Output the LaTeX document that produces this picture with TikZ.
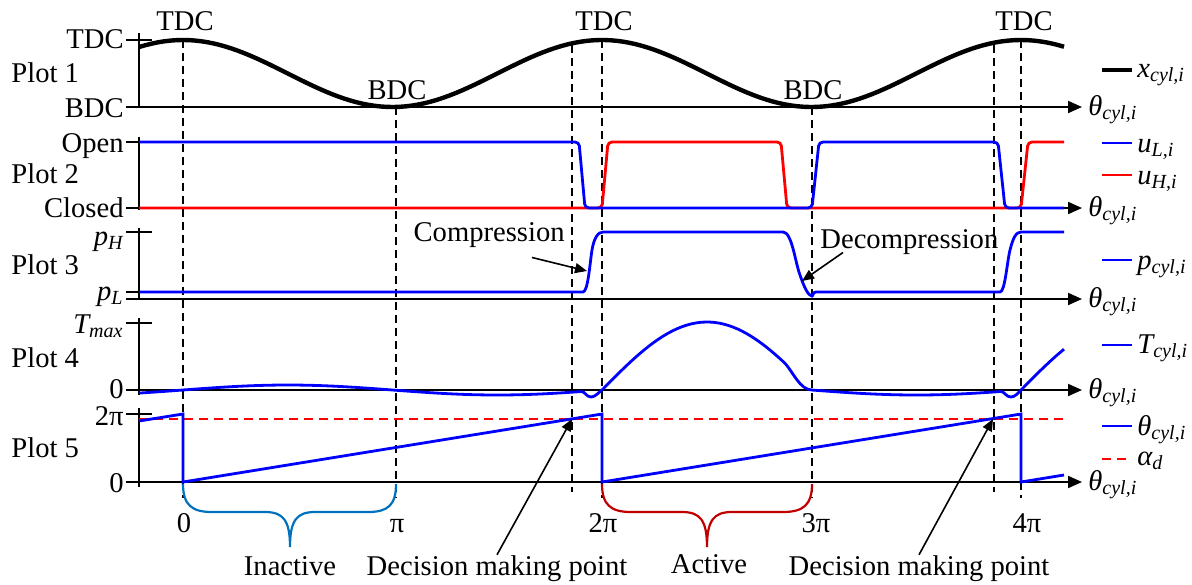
\documentclass[tikz,border=0pt]{standalone}
\usepackage{fontspec}
\setmainfont{Liberation Serif}
\usetikzlibrary{arrows.meta,calc}
\newcommand{\vsub}[2]{\textit{#1\textsubscript{#2}}}
\definecolor{braceblue}{RGB}{0,114,189}
\definecolor{bracered}{RGB}{192,0,0}

\begin{document}
\begin{tikzpicture}[x=0.5pt,y=-0.5pt,
	axis/.style={line width=1pt},
	axarrow/.style={axis,-{Triangle[length=7pt,width=6pt]}},
	guide/.style={line width=1pt,dash pattern=on 4pt off 2.5pt},
	sig/.style={line width=1.4pt},
	pointer/.style={line width=0.8pt,-{Triangle[length=6pt,width=5pt]}}]
		\tikzstyle{every node}+=[inner sep=0pt,font=\fontsize{14.3}{16}\selectfont]
		\useasboundingbox (0,0) rectangle (1192,584);
		% axes and ticks
		\foreach \ytop/\ybot in {33/108,137/210,228/300,318/395,408/487}
			\draw[axis] (139,\ytop) -- (139,\ybot);
		\foreach \ytk in {40,142,232,292,323,414}
			\draw[axis] (126,\ytk) -- (152,\ytk);
		\foreach \yax in {107,208,299,390,482}
			\draw[axarrow] (126,\yax) -- (1082,\yax);
		% guides
		\draw[guide] (183,40) -- (183,498);
		\draw[guide] (396,107) -- (396,498);
		\draw[guide] (572,45) -- (572,492);
		\draw[guide] (602,40) -- (602,498);
		\draw[guide] (812,107) -- (812,498);
		\draw[guide] (994,45) -- (994,492);
		\draw[guide] (1021,40) -- (1021,498);
		% plot 1
		\draw[line width=2.2pt] plot[domain=139:1064,samples=150] (\x,{73.5-33.5*cos((\x-183)*0.85919)});
		% plot 2
		\draw[sig,red,rounded corners=2pt] (139,208) -- (602,208) -- (608,142) -- (781,142) -- (787,208) -- (1021,208) -- (1028,142) -- (1064,142);
		\draw[sig,blue,rounded corners=2pt] (139,142) -- (579,142) -- (585,208) -- (812,208) -- (819,142) -- (998,142) -- (1005,208) -- (1064,208);
		% plot 3
		\draw[sig,blue] (139,292) -- (583,292) .. controls (588,292) and (590,262) .. (592,250)
			.. controls (594,238) and (598,232) .. (603,232) -- (783,232)
			.. controls (792,232) and (795,262) .. (800,275) .. controls (805,290) and (809,296) .. (812,296)
			.. controls (813,296) and (813,292) .. (816,292) -- (1000,292)
			.. controls (1005,292) and (1007,262) .. (1010,250) .. controls (1013,238) and (1016,232) .. (1021,232) -- (1064,232);
		% plot 4
		\draw[sig,blue] plot[domain=139:581,samples=50] (\x,{390-5*sin((\x-183)*0.85919)})
			.. controls (585,391) and (586,397) .. (591,397) .. controls (595,397) and (598,393) .. (602,390)
			-- plot[domain=602:785,samples=40] (\x,{390-68*sin((\x-602)*0.85714)})
			.. controls (793,372) and (800,390) .. (812,390)
			-- plot[domain=812:1001,samples=40] (\x,{390-5*sin((\x-183)*0.85919)})
			.. controls (1005,392) and (1006,397) .. (1011,397) .. controls (1015,397) and (1018,393) .. (1021,390)
			-- plot[domain=1021:1064,samples=12] (\x,{390-68*sin((\x-1021)*0.85714)});
		% plot 5
		\draw[line width=1.1pt,red,dash pattern=on 4.5pt off 3pt] (139,419) -- (1064,419);
		\draw[sig,blue] (139,421) -- (183,414) -- (183,482) -- (602,414) -- (602,482) -- (1021,414) -- (1021,482) -- (1064,475);
		% braces
		\draw[line width=1.1pt,braceblue] (183,484) .. controls (183,505) and (192,512) .. (212,512) -- (265,512)
			.. controls (283,512) and (290,520) .. (290,547) .. controls (290,520) and (297,512) .. (315,512)
			-- (368,512) .. controls (388,512) and (396,505) .. (396,484);
		\draw[line width=1.1pt,bracered] (602,484) .. controls (602,505) and (611,512) .. (631,512) -- (682,512)
			.. controls (700,512) and (707,520) .. (707,547) .. controls (707,520) and (714,512) .. (732,512)
			-- (783,512) .. controls (803,512) and (812,505) .. (812,484);
		% left labels
		\node[anchor=base east] (ytdc) at (124,48) {TDC};
		\node[anchor=base east] (ybdc) at (124,117) {BDC};
		\node[anchor=base east] (yopen) at (124,152) {Open};
		\node[anchor=base east] (yclosed) at (124,217) {Closed};
		\node[anchor=base east] (yph) at (124,245) {\vsub{p}{H}};
		\node[anchor=base east] (ypl) at (124,300) {\vsub{p}{L}};
		\node[anchor=base east] (ytmax) at (124,333) {\vsub{T}{max}};
		\node[anchor=base east] (ytzero) at (124,398) {0};
		\node[anchor=base east] (ytwopi) at (124,425) {2π};
		\node[anchor=base east] (ythzero) at (124,492) {0};
		\foreach \n/\yb in {1/82,2/183,3/274,4/367,5/457}
			\node[anchor=base west] (plot\n) at (11,\yb) {Plot \n};
		% top labels
		\node[anchor=base] (tdcA) at (185,30) {TDC};
		\node[anchor=base] (tdcB) at (604,30) {TDC};
		\node[anchor=base] (tdcC) at (1024,30) {TDC};
		\node[anchor=base] (bdcA) at (397,99) {BDC};
		\node[anchor=base] (bdcB) at (813,99) {BDC};
		% axis labels
		\foreach \n/\yb in {1/115,2/216,3/307,4/398,5/490}
			\node[anchor=base west] (theta\n) at (1088,\yb) {\vsub{θ}{cyl,i}};
		% legend
		\draw[line width=2.2pt] (1102,70) -- (1132,70);
		\node[anchor=base west] (legx) at (1137,77) {\vsub{x}{cyl,i}};
		\draw[sig,blue] (1102,143) -- (1132,143);
		\node[anchor=base west] (legul) at (1137,152) {\vsub{u}{L,i}};
		\draw[sig,red] (1102,175) -- (1132,175);
		\node[anchor=base west] (leguh) at (1137,184) {\vsub{u}{H,i}};
		\draw[sig,blue] (1102,260) -- (1132,260);
		\node[anchor=base west] (legp) at (1137,269) {\vsub{p}{cyl,i}};
		\draw[sig,blue] (1102,345) -- (1132,345);
		\node[anchor=base west] (legt) at (1137,353) {\vsub{T}{cyl,i}};
		\draw[sig,blue] (1102,426) -- (1132,426);
		\node[anchor=base west] (legth) at (1137,435) {\vsub{θ}{cyl,i}};
		\draw[line width=1.1pt,red,dash pattern=on 4.5pt off 3pt] (1102,459) -- (1132,459);
		\node[anchor=base west] (legal) at (1137,465) {\vsub{α}{d}};
		% bottom labels
		\node[anchor=base] (pzero) at (184,532) {0};
		\node[anchor=base] (pone) at (397,532) {π};
		\node[anchor=base] (ptwo) at (603,532) {2π};
		\node[anchor=base] (pthree) at (816,532) {3π};
		\node[anchor=base] (pfour) at (1027,532) {4π};
		\node[anchor=base] (inactive) at (290,575) {Inactive};
		\node[anchor=base] (active) at (709,573) {Active};
		% pointers
		\node[anchor=base east] (compr) at (565,241) {Compression};
		\coordinate (comprpt) at (587,271);
		\draw[pointer] ($(compr.south east)+(-33,10)$) -- (comprpt);
		\node[anchor=base west] (decompr) at (820,248) {Decompression};
		\coordinate (decomprpt) at (802,281);
		\draw[pointer] ($(decompr.south west)+(23,-2)$) -- (decomprpt);
		\node[anchor=base] (decA) at (497,575) {Decision making point};
		\coordinate (decApt) at (572,419);
		\draw[pointer] (decA.north) -- (decApt);
		\node[anchor=base] (decB) at (919,575) {Decision making point};
		\coordinate (decBpt) at (993,419);
		\draw[pointer] (decB.north) -- (decBpt);
	\end{tikzpicture}
\end{document}
